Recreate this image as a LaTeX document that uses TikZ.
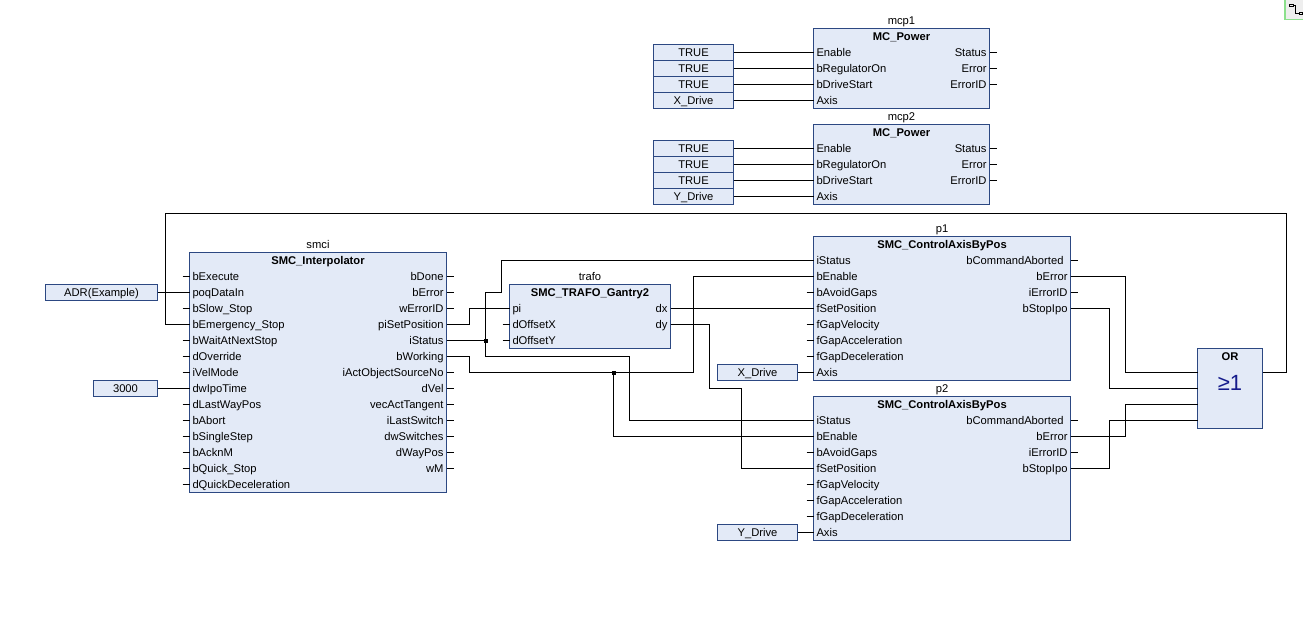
\documentclass[tikz,border=0pt]{standalone}
\usepackage{fontspec}
\setmainfont{Liberation Sans}
\usetikzlibrary{calc}
\definecolor{fbfill}{RGB}{227,234,247}
\definecolor{fbborder}{RGB}{44,72,130}
\definecolor{ornavy}{RGB}{22,28,140}
\definecolor{icongreen}{RGB}{140,224,140}
\definecolor{icongray}{RGB}{238,238,238}
\newcommand\fs{\fontsize{11.2}{13}\selectfont}
\tikzset{
  fb/.style={draw=fbborder,fill=fbfill,line width=1pt,outer sep=0pt,inner sep=0pt},
  valbox/.style={fb,minimum height=16pt,font=\fs,text height=7.9pt,text depth=0pt},
  pinlbl/.style={font=\fs,inner sep=0pt,outer sep=0pt,text height=7.9pt,text depth=0pt},
  wire/.style={draw=black,line width=1pt},
}
\newcommand\fbblock[7]{%
  \node[fb,minimum width=#4pt,minimum height=#5pt,anchor=north west] (#1) at (#2,#3) {};
  \node[pinlbl] (#1-inst) at ([yshift=8pt]#1.north) {#6};
  \node[pinlbl,font=\fs\bfseries] (#1-type) at ([yshift=-8pt]#1.north) {#7};
}
\newcommand\fbins[4]{%
  \foreach \lab [count=\k] in {#4}{%
    \coordinate (#1-i\k) at (#2,#3+16*\k-16);
    \node[pinlbl,anchor=west] (#1-il\k) at (#2+3,#3+16*\k-16) {\lab};
    \draw[wire] (#2-7,#3+16*\k-16) -- (#1-i\k);
  }}
\newcommand\fbouts[4]{%
  \foreach \lab [count=\k] in {#4}{%
    \coordinate (#1-o\k) at (#2,#3+16*\k-16);
    \node[pinlbl,anchor=east] (#1-ol\k) at (#2-3,#3+16*\k-16) {\lab};
    \draw[wire] (#1-o\k) -- (#2+7,#3+16*\k-16);
  }}
\begin{document}
\begin{tikzpicture}[x=1pt,y=-1pt]
\fill[white] (0,0) rectangle (1303,637);
\useasboundingbox (0,0) rectangle (1303,637);
\begin{scope}[shift={(0.5,0.5)}]

% ---- mcp1 ----
\fbblock{mcp1}{813}{28}{176}{80}{mcp1}{MC\_Power}
\fbins{mcp1}{813}{52}{Enable,bRegulatorOn,bDriveStart,Axis}
\fbouts{mcp1}{989}{52}{Status,Error,ErrorID}
\node[valbox,minimum width=80pt,anchor=north west] (a1) at (653,44) {TRUE};
\node[valbox,minimum width=80pt,anchor=north west] (a2) at (653,60) {TRUE};
\node[valbox,minimum width=80pt,anchor=north west] (a3) at (653,76) {TRUE};
\node[valbox,minimum width=80pt,anchor=north west] (a4) at (653,92) {X\_Drive};
\draw[wire] (a1.east) -- (mcp1-i1);
\draw[wire] (a2.east) -- (mcp1-i2);
\draw[wire] (a3.east) -- (mcp1-i3);
\draw[wire] (a4.east) -- (mcp1-i4);

% ---- mcp2 ----
\fbblock{mcp2}{813}{124}{176}{80}{mcp2}{MC\_Power}
\fbins{mcp2}{813}{148}{Enable,bRegulatorOn,bDriveStart,Axis}
\fbouts{mcp2}{989}{148}{Status,Error,ErrorID}
\node[valbox,minimum width=80pt,anchor=north west] (b1) at (653,140) {TRUE};
\node[valbox,minimum width=80pt,anchor=north west] (b2) at (653,156) {TRUE};
\node[valbox,minimum width=80pt,anchor=north west] (b3) at (653,172) {TRUE};
\node[valbox,minimum width=80pt,anchor=north west] (b4) at (653,188) {Y\_Drive};
\draw[wire] (b1.east) -- (mcp2-i1);
\draw[wire] (b2.east) -- (mcp2-i2);
\draw[wire] (b3.east) -- (mcp2-i3);
\draw[wire] (b4.east) -- (mcp2-i4);

% ---- smci ----
\fbblock{smci}{189}{252}{257}{240}{smci}{SMC\_Interpolator}
\fbins{smci}{189}{276}{bExecute,poqDataIn,bSlow\_Stop,bEmergency\_Stop,bWaitAtNextStop,dOverride,iVelMode,dwIpoTime,dLastWayPos,bAbort,bSingleStep,bAcknM,bQuick\_Stop,dQuickDeceleration}
\fbouts{smci}{446}{276}{bDone,bError,wErrorID,piSetPosition,iStatus,bWorking,iActObjectSourceNo,dVel,vecActTangent,iLastSwitch,dwSwitches,dWayPos,wM}
\node[valbox,minimum width=112pt,anchor=north west] (adr) at (45,284) {ADR(Example)};
\node[valbox,minimum width=64pt,anchor=north west] (ipo) at (93,380) {3000};
\draw[wire] (adr.east) -- (smci-i2);
\draw[wire] (ipo.east) -- (smci-i8);

% ---- trafo ----
\fbblock{trafo}{509}{284}{161}{64}{trafo}{SMC\_TRAFO\_Gantry2}
\fbins{trafo}{509}{308}{pi,dOffsetX,dOffsetY}
\fbouts{trafo}{670}{308}{dx,dy}

% ---- p1 ----
\fbblock{p1}{813}{236}{257}{144}{p1}{SMC\_ControlAxisByPos}
\fbins{p1}{813}{260}{iStatus,bEnable,bAvoidGaps,fSetPosition,fGapVelocity,fGapAcceleration,fGapDeceleration,Axis}
\fbouts{p1}{1070}{260}{bCommandAborted\kern4pt,bError,iErrorID,bStopIpo}
\node[valbox,minimum width=80pt,anchor=north west] (xd) at (717,364) {X\_Drive};
\draw[wire] (xd.east) -- (p1-i8);

% ---- p2 ----
\fbblock{p2}{813}{396}{257}{144}{p2}{SMC\_ControlAxisByPos}
\fbins{p2}{813}{420}{iStatus,bEnable,bAvoidGaps,fSetPosition,fGapVelocity,fGapAcceleration,fGapDeceleration,Axis}
\fbouts{p2}{1070}{420}{bCommandAborted\kern4pt,bError,iErrorID,bStopIpo}
\node[valbox,minimum width=80pt,anchor=north west] (yd) at (717,524) {Y\_Drive};
\draw[wire] (yd.east) -- (p2-i8);

% ---- OR ----
\node[fb,minimum width=65pt,minimum height=80pt,anchor=north west] (or) at (1197,348) {};
\node[pinlbl,font=\fs\bfseries] (or-type) at ([yshift=-8pt]or.north) {OR};
\node[inner sep=0pt,text=ornavy,font=\fontsize{22}{24}\selectfont] (or-sym) at (1229.5,382) {≥1};
\coordinate (or-i1) at (1197,372);
\coordinate (or-i2) at (1197,388);
\coordinate (or-i3) at (1197,404);
\coordinate (or-i4) at (1197,420);
\coordinate (or-o) at (1262,372);

% ---- junctions ----
\coordinate (j1) at (485,340);
\coordinate (j2) at (613,372);

% ---- wires ----
\draw[wire] (or-o) -- ++(24,0) |- (165,213) |- (smci-i4);
\draw[wire] (smci-o4) -- ++(23,0) |- (trafo-i1);
\draw[wire] (smci-o5) -- (j1) -- ++(0,-48) -- ++(16,0) |- (p1-i1);
\draw[wire] (j1) |- (629,356) |- (p2-i1);
\draw[wire] (smci-o6) -- ++(23,0) |- (j2) -- ++(80,0) |- (p1-i2);
\draw[wire] (j2) |- (p2-i2);
\draw[wire] (trafo-o1) -- (p1-i4);
\draw[wire] (trafo-o2) -- ++(39,0) -- ++(0,64) -- ++(32,0) |- (p2-i4);
\draw[wire] (p1-o2) -- ++(55,0) |- (or-i1);
\draw[wire] (p1-o4) -- ++(39,0) |- (or-i2);
\draw[wire] (p2-o2) -- ++(55,0) |- (or-i3);
\draw[wire] (p2-o4) -- ++(39,0) |- (or-i4);
\fill[black] ([shift={(-2pt,-2pt)}]j1) rectangle ([shift={(2pt,2pt)}]j1);
\fill[black] ([shift={(-2pt,-2pt)}]j2) rectangle ([shift={(2pt,2pt)}]j2);
\end{scope}

% ---- corner icon ----
\begin{scope}
\clip (0,0) rectangle (1303,637);
\draw[icongreen,fill=icongray,line width=1.5pt] (1285,-3) rectangle (1306,19.5);
\draw[black,line width=0.8pt] (1289,4) rectangle (1293,6);
\draw[black,line width=0.8pt] (1293,5) -- (1295.5,5) -- (1295.5,13.3) -- (1299,13.3);
\draw[black,line width=0.8pt] (1299,12.3) rectangle (1302.5,14.3);
\end{scope}
\end{tikzpicture}
\end{document}
